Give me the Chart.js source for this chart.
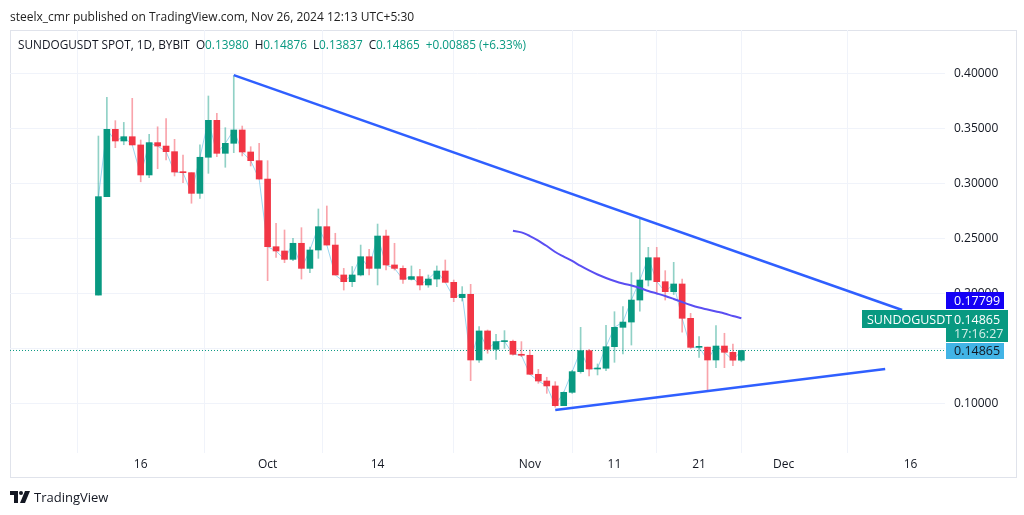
<!DOCTYPE html>
<html>
<head>
<meta charset="utf-8">
<script src="https://cdn.jsdelivr.net/npm/chart.js@4.4.1/dist/chart.umd.min.js"></script>
<style>
  body { margin: 0; background: #fff; font-family: 'Open Sans', 'Liberation Sans', sans-serif; }
  #wrap { position: relative; width: 1024px; height: 515px; overflow: hidden; }
  #chart { position: absolute; left: 0; top: 0; }
  .pub { position: absolute; left: 10px; top: 8px; font-size: 12px; color: #222; }
  .legend { position: absolute; left: 18px; top: 36px; font-size: 11.8px; color: #131722; white-space: nowrap; }
  .legend .v { color: #089981; }
  .legend .g { margin-left: 6px; }
  .brand { position: absolute; left: 10px; top: 488px; font-size: 13px; color: #131722; display: flex; align-items: center; }
  .brand svg { margin-right: 4px; }
</style>
</head>
<body>
<div id="wrap">
  <canvas id="chart" width="1024" height="515"></canvas>
  <div class="pub">steelx_cmr published on TradingView.com, Nov 26, 2024 12:13 UTC+5:30</div>
  <div class="legend" id="legend"></div>
  <div class="brand"><svg width="20" height="12" viewBox="0 0 20 12"><path d="M0 0h8v12H4V4H0z" fill="#131722"/><circle cx="11" cy="2" r="2" fill="#131722"/><path d="M15 0h5l-5 12h-5z" fill="#131722"/></svg>TradingView</div>
</div>
<script>
// Свечи по дням, день 0 = 11 сентября 2024
const opens  = [0.199, 0.2885, 0.3497, 0.3391, 0.343, 0.3355, 0.3082, 0.3376, 0.3345, 0.3294,
  0.3109, 0.3103, 0.2915, 0.3243, 0.3579, 0.3279, 0.337, 0.3491, 0.3291, 0.3212,
  0.3045, 0.243, 0.2391, 0.2315, 0.2461, 0.2233, 0.24, 0.2612, 0.2445, 0.2173,
  0.2112, 0.2173, 0.2339, 0.2233, 0.2527, 0.2264, 0.2233, 0.2133, 0.2158, 0.2082,
  0.2136, 0.2209, 0.2106, 0.1967, 0.1997, 0.14, 0.1664, 0.1497, 0.1567, 0.157,
  0.1452, 0.1443, 0.127, 0.1209, 0.1164, 0.0985, 0.1106, 0.1294, 0.1485, 0.1318,
  0.1325, 0.1521, 0.1697, 0.1745, 0.1945, 0.2127, 0.233, 0.2112, 0.2021, 0.2091,
  0.1779, 0.1515, 0.1517, 0.14, 0.1527, 0.147, 0.1398];
const highs  = [0.3436, 0.3788, 0.3576, 0.356, 0.3779, 0.34, 0.3452, 0.352, 0.3594, 0.3406,
  0.3264, 0.3103, 0.3355, 0.38, 0.3643, 0.3512, 0.3985, 0.3527, 0.3339, 0.337,
  0.3212, 0.2643, 0.2582, 0.2506, 0.2603, 0.2427, 0.2773, 0.28, 0.2552, 0.2233,
  0.225, 0.2445, 0.2406, 0.2636, 0.2582, 0.2461, 0.2255, 0.2255, 0.2224, 0.2173,
  0.2255, 0.2309, 0.2127, 0.2067, 0.2088, 0.1703, 0.1673, 0.1634, 0.1667, 0.158,
  0.1567, 0.1491, 0.1315, 0.1243, 0.1203, 0.111, 0.1305, 0.1697, 0.1497, 0.1364,
  0.1715, 0.1839, 0.1885, 0.2194, 0.2679, 0.2424, 0.2424, 0.2212, 0.2288, 0.2136,
  0.1824, 0.1612, 0.1517, 0.1712, 0.1643, 0.1545, 0.14876];
const lows   = [0.199, 0.2885, 0.333, 0.3357, 0.3355, 0.302, 0.3057, 0.3139, 0.3218, 0.3073,
  0.3012, 0.2825, 0.287, 0.3097, 0.3248, 0.3152, 0.3285, 0.3255, 0.3164, 0.3045,
  0.2121, 0.2333, 0.2285, 0.2303, 0.2136, 0.2194, 0.2324, 0.2445, 0.2173, 0.2036,
  0.2067, 0.2164, 0.2173, 0.2082, 0.2218, 0.2218, 0.2097, 0.2127, 0.2036, 0.2061,
  0.2067, 0.2106, 0.193, 0.1936, 0.1212, 0.1379, 0.1461, 0.1406, 0.1506, 0.1445,
  0.143, 0.127, 0.1188, 0.1097, 0.097, 0.0985, 0.1096, 0.128, 0.1255, 0.1264,
  0.1303, 0.1379, 0.1455, 0.1536, 0.1845, 0.2073, 0.2006, 0.1945, 0.1995, 0.1652,
  0.1505, 0.1424, 0.1118, 0.133, 0.133, 0.1348, 0.13837];
const closes = [0.2885, 0.3497, 0.3391, 0.343, 0.3355, 0.3082, 0.3376, 0.3345, 0.3294, 0.3109,
  0.3103, 0.2915, 0.3243, 0.3579, 0.3279, 0.337, 0.3491, 0.3291, 0.3212, 0.3045,
  0.243, 0.2391, 0.2315, 0.2461, 0.2233, 0.24, 0.2612, 0.2445, 0.2173, 0.2112,
  0.2173, 0.2339, 0.2233, 0.2527, 0.2264, 0.2233, 0.2133, 0.2158, 0.2082, 0.2136,
  0.2209, 0.2106, 0.1967, 0.1997, 0.14, 0.1664, 0.1497, 0.1567, 0.157, 0.1452,
  0.1443, 0.127, 0.1209, 0.1164, 0.0985, 0.1106, 0.1294, 0.1485, 0.1318, 0.1325,
  0.1521, 0.1697, 0.1745, 0.1945, 0.2127, 0.233, 0.2112, 0.2021, 0.2091, 0.1779,
  0.1515, 0.1517, 0.14, 0.1527, 0.147, 0.1398, 0.14865];

// Скользящая средняя, начинается 30 октября
const maStartDay = 49;
const maValues = [0.2575, 0.256, 0.2527, 0.2486, 0.2436, 0.2382, 0.234, 0.23, 0.2255, 0.2214,
  0.2177, 0.2145, 0.2118, 0.2095, 0.2077, 0.2055, 0.2027, 0.2005, 0.1982, 0.1955,
  0.1927, 0.19, 0.1877, 0.1859, 0.1841, 0.1823, 0.18, 0.178];
const maLast = 0.17799;

// Линии тренда: [день, цена]
const upperTrend = [[16, 0.399], [95, 0.1855]];
const lowerTrend = [[54, 0.0945], [93, 0.1318]];

// Оси
const xMin = -10.45, xMax = 100.07;
const yMin = 0.05545, yMax = 0.44;
const tickDays = [5, 20, 33, 51, 61, 71, 81, 96];
const tickLabels = ['16', 'Oct', '14', 'Nov', '11', '21', 'Dec', '16'];
const priceTicks = [0.10, 0.15, 0.20, 0.25, 0.30, 0.35, 0.40];

const UP = '#089981', DOWN = '#f23645';
const UP_W = 'rgba(8,153,129,0.45)', DOWN_W = 'rgba(242,54,69,0.45)';
const FONT = "'Open Sans', 'Liberation Sans', sans-serif";

const last = closes.length - 1;
document.getElementById('legend').innerHTML =
    'SUNDOGUSDT SPOT, 1D, BYBIT' +
    '<span class="g">O<span class="v">' + opens[last].toFixed(5) + '</span></span>' +
    '<span class="g">H<span class="v">' + highs[last].toFixed(5) + '</span></span>' +
    '<span class="g">L<span class="v">' + lows[last].toFixed(5) + '</span></span>' +
    '<span class="g">C<span class="v">' + closes[last].toFixed(5) + '</span></span>' +
    '<span class="g v">+0.00885 (+6.33%)</span>';

const isUp = closes.map((c, i) => c >= opens[i]);

// Рамка вокруг графика
const frame = {
    id: 'frame',
    beforeDraw(chart) {
        const ctx = chart.ctx;
        ctx.save();
        ctx.strokeStyle = '#e0e3eb';
        ctx.lineWidth = 1;
        ctx.strokeRect(10.5, 30.5, 1006, 447);
        ctx.restore();
    }
};

// Метки цены справа
const priceBoxes = {
    id: 'priceBoxes',
    afterDraw(chart) {
        const ctx = chart.ctx;
        const y = chart.scales.y;
        const left = chart.chartArea.right + 1;
        const py = Math.round(y.getPixelForValue(closes[last]));
        ctx.save();
        ctx.font = '12.5px ' + FONT;
        ctx.textBaseline = 'middle';
        ctx.textAlign = 'left';

        // текущая цена
        ctx.fillStyle = '#42b4e6';
        ctx.fillRect(left, py - 7, 58, 16);
        ctx.fillStyle = '#131722';
        ctx.fillText(closes[last].toFixed(5), left + 8, py + 1);

        // зелёная метка с таймером
        const gTop = py - 40;
        ctx.fillStyle = UP;
        ctx.fillRect(left, gTop, 62, 32);
        ctx.fillStyle = '#ffffff';
        ctx.fillText(closes[last].toFixed(5), left + 8, gTop + 10);
        ctx.fillStyle = '#d7efe9';
        ctx.fillText('17:16:27', left + 8, gTop + 24);

        // название тикера
        ctx.fillStyle = UP;
        ctx.fillRect(left - 84, gTop, 84, 18);
        ctx.fillStyle = '#ffffff';
        ctx.fillText('SUNDOGUSDT', left - 79, gTop + 10);

        // значение скользящей
        const bTop = gTop - 18;
        ctx.fillStyle = '#1400f5';
        ctx.fillRect(left, bTop, 58, 17);
        ctx.fillStyle = '#ffffff';
        ctx.fillText(maLast.toFixed(5), left + 8, bTop + 9);
        ctx.restore();
    }
};

const ctx = document.getElementById('chart').getContext('2d');
new Chart(ctx, {
    type: 'bar',
    data: {
        datasets: [
            {
                type: 'bar',
                data: opens.map((o, i) => ({ x: i, y: [o, closes[i]] })),
                backgroundColor: isUp.map(u => u ? UP : DOWN),
                barThickness: 6,
                minBarLength: 1,
                grouped: false,
                order: 2
            },
            {
                type: 'bar',
                data: lows.map((l, i) => ({ x: i, y: [l, highs[i]] })),
                backgroundColor: isUp.map(u => u ? UP_W : DOWN_W),
                barThickness: 1,
                grouped: false,
                order: 4
            },
            {
                type: 'line',
                data: closes.map((c, i) => ({ x: i, y: c })),
                borderColor: 'rgba(120,200,235,0.75)',
                borderWidth: 1,
                pointRadius: 0,
                order: 5
            },
            {
                type: 'line',
                data: maValues.map((v, i) => ({ x: maStartDay + i, y: v })),
                borderColor: '#5a4ef2',
                borderWidth: 2,
                pointRadius: 0,
                tension: 0.3,
                order: 1
            },
            {
                type: 'line',
                data: upperTrend.map(p => ({ x: p[0], y: p[1] })),
                borderColor: '#2f5fff',
                borderWidth: 2.5,
                pointRadius: 0,
                order: 0
            },
            {
                type: 'line',
                data: lowerTrend.map(p => ({ x: p[0], y: p[1] })),
                borderColor: '#2f5fff',
                borderWidth: 2.5,
                pointRadius: 0,
                order: 0
            },
            {
                type: 'line',
                data: [{ x: xMin, y: closes[last] }, { x: xMax, y: closes[last] }],
                borderColor: '#089981',
                borderWidth: 1,
                borderDash: [1, 2],
                pointRadius: 0,
                order: 6
            }
        ]
    },
    options: {
        responsive: false,
        animation: false,
        layout: { padding: { left: 10, top: 30, right: 7, bottom: 37 } },
        plugins: { legend: { display: false }, tooltip: { enabled: false } },
        scales: {
            x: {
                type: 'linear',
                min: xMin,
                max: xMax,
                offset: false,
                afterBuildTicks: s => { s.ticks = tickDays.map(v => ({ value: v })); },
                afterFit: s => { s.height = 25; },
                ticks: {
                    callback: v => tickLabels[tickDays.indexOf(v)],
                    color: '#131722',
                    font: { size: 12, family: FONT },
                    padding: 4,
                    maxRotation: 0
                },
                grid: { color: '#f0f3fa', drawTicks: false },
                border: { display: false }
            },
            y: {
                position: 'right',
                min: yMin,
                max: yMax,
                afterBuildTicks: s => { s.ticks = priceTicks.map(v => ({ value: v })); },
                afterFit: s => { s.width = 72; },
                ticks: {
                    callback: v => v.toFixed(5),
                    color: '#131722',
                    font: { size: 12, family: FONT },
                    padding: 9
                },
                grid: { color: '#f0f3fa', drawTicks: false },
                border: { display: false }
            }
        }
    },
    plugins: [frame, priceBoxes]
});
</script>
</body>
</html>
